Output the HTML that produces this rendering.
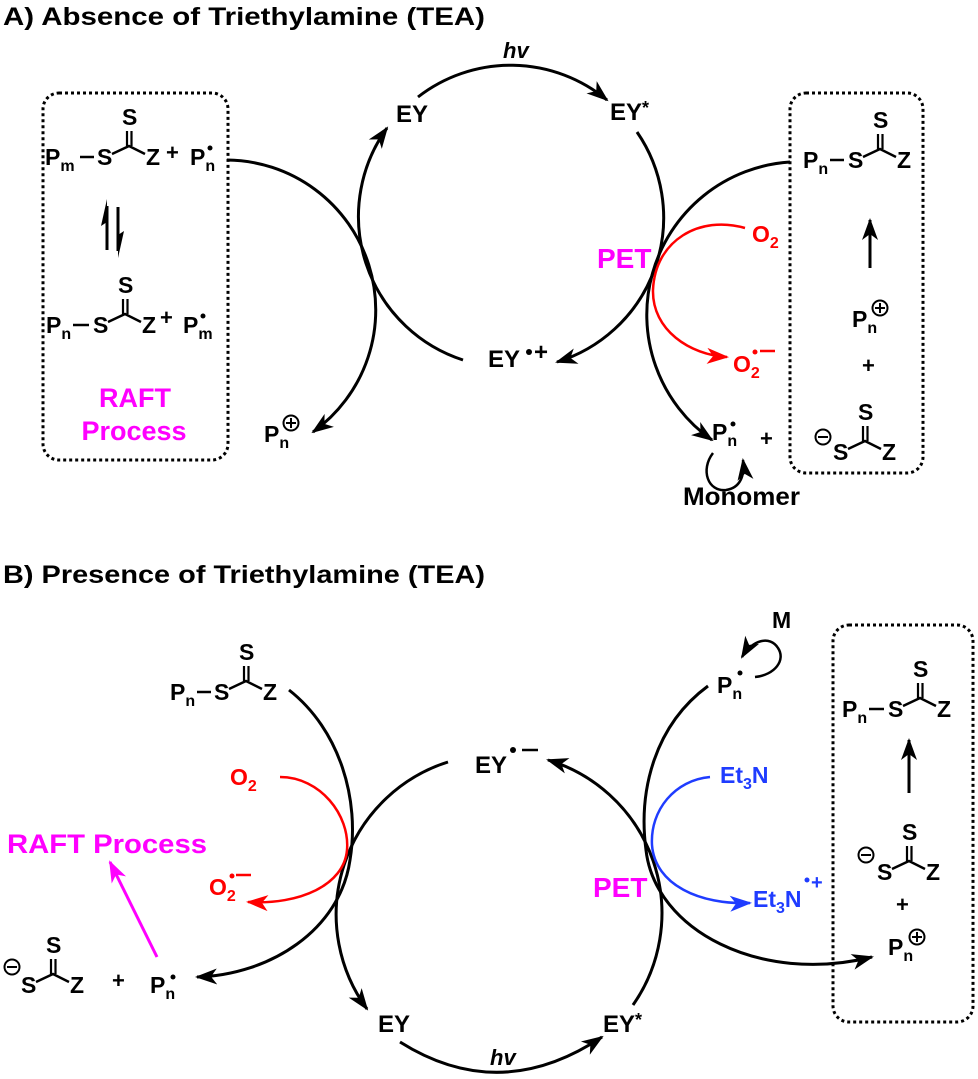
<!DOCTYPE html>
<html><head><meta charset="utf-8"><style>
html,body{margin:0;padding:0;background:#fff}
svg{display:block}
text{font-family:"Liberation Sans",Arial,sans-serif;font-weight:bold}
</style></head><body>
<svg width="978" height="1079" viewBox="0 0 978 1079" xmlns="http://www.w3.org/2000/svg">
<defs>
<marker id="ak" markerUnits="userSpaceOnUse" markerWidth="24" markerHeight="18" refX="20" refY="9" orient="auto"><path d="M0,1 L22,9 L0,17 L6,9 z" fill="#000"/></marker>
<marker id="ar" markerUnits="userSpaceOnUse" markerWidth="24" markerHeight="18" refX="20" refY="9" orient="auto"><path d="M0,1 L22,9 L0,17 L6,9 z" fill="#f00"/></marker>
<marker id="ab" markerUnits="userSpaceOnUse" markerWidth="24" markerHeight="18" refX="20" refY="9" orient="auto"><path d="M0,1 L22,9 L0,17 L6,9 z" fill="#1f3cff"/></marker>
<marker id="am" markerUnits="userSpaceOnUse" markerWidth="24" markerHeight="18" refX="20" refY="9" orient="auto"><path d="M0,1 L22,9 L0,17 L6,9 z" fill="#f0f"/></marker>
<g id="tc">
<text x="0" y="0" font-size="23">S</text>
<path d="M15,-11 L32,-19 L48,-11" fill="none" stroke="#000" stroke-width="2.5"/>
<path d="M30,-19 V-34 M34.5,-19 V-34" stroke="#000" stroke-width="2.2"/>
<text x="25" y="-40" font-size="23">S</text>
<text x="49" y="0" font-size="23">Z</text>
</g>
<g id="plus"><circle cx="0" cy="0" r="7.5" fill="none" stroke="#000" stroke-width="2"/><path d="M-5,0 H5 M0,-5 V5" stroke="#000" stroke-width="2"/></g>
<g id="minus"><circle cx="0" cy="0" r="7.5" fill="none" stroke="#000" stroke-width="2"/><path d="M-5,0 H5" stroke="#000" stroke-width="2"/></g>
</defs>

<text x="3" y="25" font-size="25" textLength="482" lengthAdjust="spacingAndGlyphs">A) Absence of Triethylamine (TEA)</text>
<text x="3" y="583" font-size="25" textLength="482" lengthAdjust="spacingAndGlyphs">B) Presence of Triethylamine (TEA)</text>

<g fill="none" stroke="#000" stroke-width="3">
<rect x="43" y="93" width="185" height="367" rx="16" stroke-dasharray="3 3"/>
<rect x="790" y="93" width="133" height="380" rx="16" stroke-dasharray="3 3"/>
<rect x="833" y="625" width="140" height="397" rx="16" stroke-dasharray="3 3"/>

<path d="M418,97 A151,151 0 0,1 607,100" marker-end="url(#ak)"/>
<path d="M637,132 A151,151 0 0,1 557,362" marker-end="url(#ak)"/>
<path d="M463,360 A151,151 0 0,1 387,128" marker-end="url(#ak)"/>
<path d="M227,160 A150,150 0 0,1 313,432" marker-end="url(#ak)"/>
<path d="M790,162 A153,153 0 0,0 712,440" marker-end="url(#ak)"/>
<path d="M713,453 C700,470 708,492 726,490 C740,488 745,476 743,460" stroke-width="2.5" marker-end="url(#ak)"/>
<path d="M870,268 V220" marker-end="url(#ak)"/>

<path d="M448,762 A160,160 0 0,0 367,1009" marker-end="url(#ak)"/>
<path d="M633,1005 A160,160 0 0,0 548,760" marker-end="url(#ak)"/>
<path d="M400,1042 Q500,1105 602,1037" marker-end="url(#ak)"/>
<path d="M289,690 C340,730 360,800 350,860 C340,930 270,975 197,977" marker-end="url(#ak)"/>
<path d="M708,686 C655,725 638,790 646,850 C655,930 760,985 872,957" marker-end="url(#ak)"/>
<path d="M755,677 C775,675 786,660 778,648 C770,635 752,640 742,657" stroke-width="2.5" marker-end="url(#ak)"/>
<path d="M909,793 V740" marker-end="url(#ak)"/>
</g>

<path d="M745,228 C700,215 655,240 653,290 C652,330 690,355 727,357" fill="none" stroke="#f00" stroke-width="2.5" marker-end="url(#ar)"/>
<path d="M280,777 C320,777 350,815 347,850 C344,885 300,905 248,902" fill="none" stroke="#f00" stroke-width="2.5" marker-end="url(#ar)"/>
<path d="M710,777 C675,780 650,810 652,845 C655,885 700,905 750,903" fill="none" stroke="#1f3cff" stroke-width="2.5" marker-end="url(#ab)"/>
<path d="M157,957 L110,862" fill="none" stroke="#f0f" stroke-width="3" marker-end="url(#am)"/>

<path d="M107,250 V206" stroke="#000" stroke-width="3"/>
<path d="M107,199 L101,226 L107,222 z" fill="#000"/>
<path d="M118,207 V251" stroke="#000" stroke-width="3"/>
<path d="M118,258 L124,231 L118,235 z" fill="#000"/>

<text x="45" y="165" font-size="23">P<tspan dy="6" font-size="16">m</tspan></text>
<line x1="80" y1="157" x2="94" y2="157" stroke="#000" stroke-width="2.5"/>
<use href="#tc" x="97" y="165"/>
<text x="166" y="160" font-size="22">+</text>
<text x="190" y="165" font-size="23">P<tspan dy="6" font-size="16">n</tspan></text>
<circle cx="210" cy="148" r="2.5"/>

<text x="46" y="333" font-size="23">P<tspan dy="6" font-size="16">n</tspan></text>
<line x1="73" y1="325" x2="89" y2="325" stroke="#000" stroke-width="2.5"/>
<use href="#tc" x="93" y="333"/>
<text x="160" y="325" font-size="22">+</text>
<text x="183" y="333" font-size="23">P<tspan dy="6" font-size="16">m</tspan></text>
<circle cx="203" cy="316" r="2.5"/>

<text x="135" y="407" font-size="27" fill="#f0f" text-anchor="middle">RAFT</text>
<text x="134" y="440" font-size="27" fill="#f0f" text-anchor="middle">Process</text>

<text x="264" y="442" font-size="23">P<tspan dy="6" font-size="16">n</tspan></text>
<use href="#plus" x="291" y="423"/>

<text x="503" y="58" font-size="22" font-style="italic">hv</text>
<text x="396" y="122" font-size="24">EY</text>
<text x="610" y="120" font-size="24">EY<tspan font-size="18" dy="-6">*</tspan></text>
<text x="488" y="367" font-size="24">EY</text>
<circle cx="529" cy="352" r="3"/>
<text x="534" y="360" font-size="24">+</text>
<text x="597" y="268" font-size="28" fill="#f0f">PET</text>
<text x="752" y="242" font-size="23" fill="#f00">O<tspan dy="6" font-size="16">2</tspan></text>
<text x="733" y="372" font-size="23" fill="#f00">O<tspan dy="6" font-size="16">2</tspan></text>
<circle cx="755" cy="352" r="2.5" fill="#f00"/>
<line x1="760" y1="351" x2="775" y2="351" stroke="#f00" stroke-width="2.5"/>

<text x="712" y="440" font-size="23">P<tspan dy="6" font-size="16">n</tspan></text>
<circle cx="733" cy="424" r="2.5"/>
<text x="760" y="446" font-size="22">+</text>
<text x="683" y="505" font-size="25" textLength="117" lengthAdjust="spacingAndGlyphs">Monomer</text>

<text x="803" y="168" font-size="23">P<tspan dy="6" font-size="16">n</tspan></text>
<line x1="830" y1="160" x2="844" y2="160" stroke="#000" stroke-width="2.5"/>
<use href="#tc" x="848" y="168"/>
<text x="852" y="327" font-size="23">P<tspan dy="6" font-size="16">n</tspan></text>
<use href="#plus" x="880" y="308"/>
<text x="862" y="373" font-size="22">+</text>
<use href="#minus" x="823" y="437"/>
<use href="#tc" x="833" y="460"/>

<text x="170" y="700" font-size="23">P<tspan dy="6" font-size="16">n</tspan></text>
<line x1="197" y1="692" x2="211" y2="692" stroke="#000" stroke-width="2.5"/>
<use href="#tc" x="214" y="700"/>
<text x="230" y="785" font-size="23" fill="#f00">O<tspan dy="6" font-size="16">2</tspan></text>
<text x="209" y="895" font-size="23" fill="#f00">O<tspan dy="6" font-size="16">2</tspan></text>
<circle cx="232" cy="876" r="2.5" fill="#f00"/>
<line x1="236" y1="875" x2="251" y2="875" stroke="#f00" stroke-width="2.5"/>
<text x="7" y="853" font-size="27" fill="#f0f" textLength="200" lengthAdjust="spacingAndGlyphs">RAFT Process</text>
<use href="#minus" x="12" y="967"/>
<use href="#tc" x="21" y="993"/>
<text x="112" y="988" font-size="22">+</text>
<text x="150" y="993" font-size="23">P<tspan dy="6" font-size="16">n</tspan></text>
<circle cx="173" cy="977" r="2.5"/>

<text x="475" y="773" font-size="24">EY</text>
<circle cx="513" cy="750" r="3"/>
<line x1="522" y1="750" x2="538" y2="750" stroke="#000" stroke-width="2.5"/>
<text x="378" y="1032" font-size="24">EY</text>
<text x="603" y="1032" font-size="24">EY<tspan font-size="18" dy="-6">*</tspan></text>
<text x="490" y="1065" font-size="22" font-style="italic">hv</text>
<text x="593" y="897" font-size="28" fill="#f0f">PET</text>

<text x="772" y="628" font-size="23">M</text>
<text x="717" y="693" font-size="23">P<tspan dy="6" font-size="16">n</tspan></text>
<circle cx="740" cy="673" r="2.5"/>
<text x="720" y="783" font-size="23" fill="#1f3cff">Et<tspan dy="6" font-size="16">3</tspan><tspan dy="-6">N</tspan></text>
<text x="753" y="907" font-size="23" fill="#1f3cff">Et<tspan dy="6" font-size="16">3</tspan><tspan dy="-6">N</tspan></text>
<circle cx="807" cy="880" r="2.5" fill="#1f3cff"/>
<text x="811" y="889" font-size="20" fill="#1f3cff">+</text>

<text x="842" y="717" font-size="23">P<tspan dy="6" font-size="16">n</tspan></text>
<line x1="869" y1="709" x2="884" y2="709" stroke="#000" stroke-width="2.5"/>
<use href="#tc" x="888" y="717"/>
<use href="#minus" x="866" y="855"/>
<use href="#tc" x="877" y="880"/>
<text x="896" y="912" font-size="22">+</text>
<text x="888" y="955" font-size="23">P<tspan dy="6" font-size="16">n</tspan></text>
<use href="#plus" x="917" y="937"/>
</svg>
</body></html>
